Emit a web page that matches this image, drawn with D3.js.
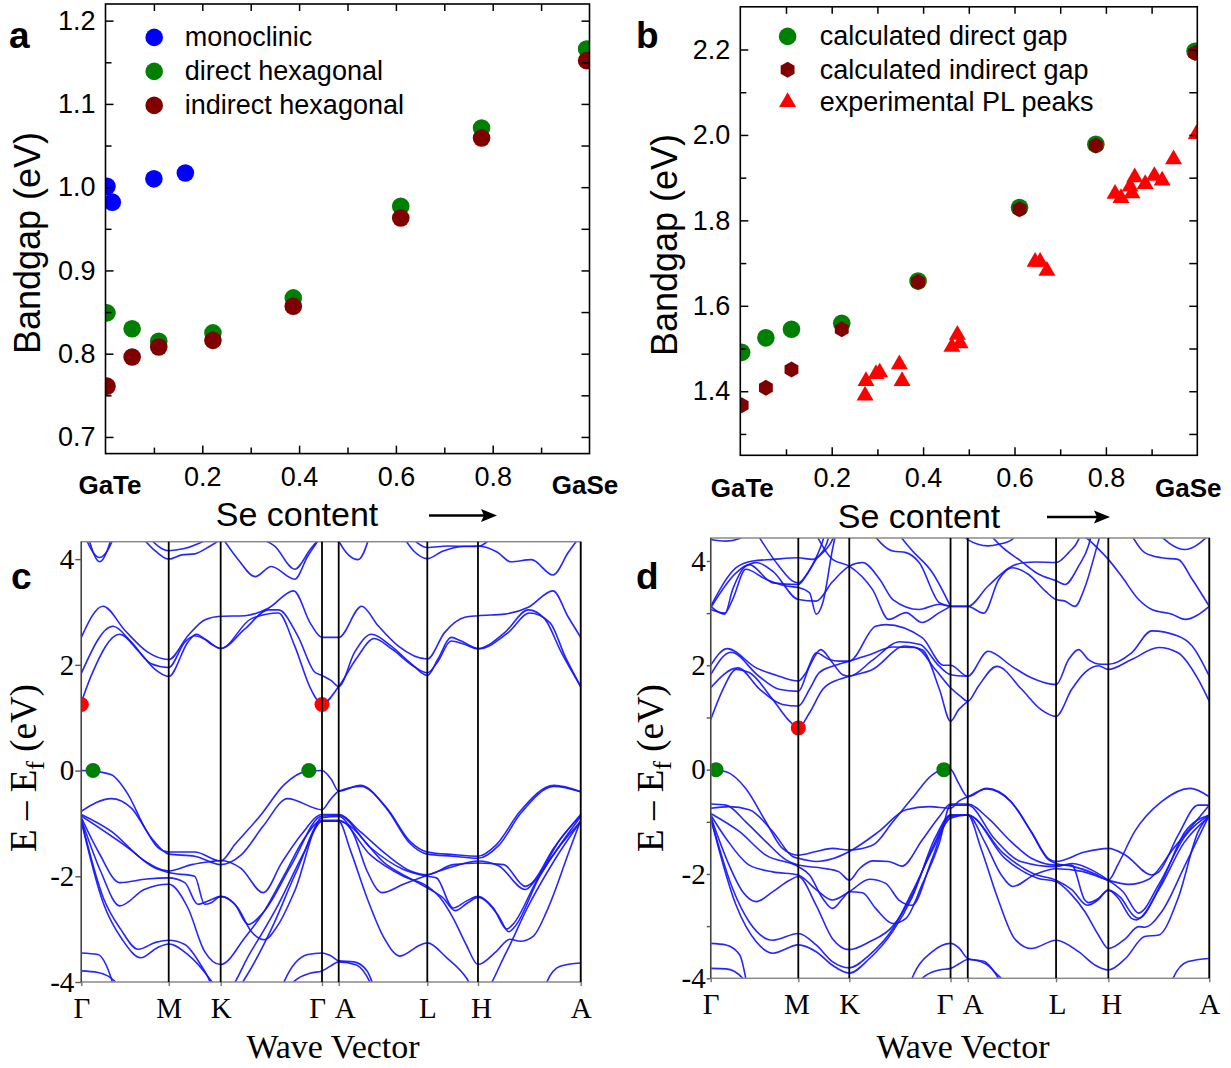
<!DOCTYPE html>
<html>
<head>
<meta charset="utf-8">
<script src="https://cdn.jsdelivr.net/npm/d3@7"></script>
<style>
  body { margin: 0; background: #fff; }
  svg { display: block; }
</style>
</head>
<body>
<svg id="fig" width="1231" height="1068"></svg>
<script>
// ---------------- (a) band gap vs Se content ----------------
const monoX = [0.003, 0.014, 0.100, 0.165];
const monoGap = [1.001, 0.982, 1.010, 1.017];
const hexX = [0.003, 0.055, 0.110, 0.222, 0.388, 0.610, 0.777, 0.994];
const directHexGap = [0.849, 0.830, 0.815, 0.825, 0.867, 0.977, 1.071, 1.166];
const indirectHexGap = [0.761, 0.796, 0.808, 0.816, 0.857, 0.963, 1.059, 1.152];
const legendA = ["monoclinic", "direct hexagonal", "indirect hexagonal"];

// ---------------- (b) calculated vs PL ----------------
const calcX = [0.003, 0.056, 0.112, 0.222, 0.389, 0.611, 0.778, 0.995];
const calcDirectGap = [1.491, 1.525, 1.545, 1.559, 1.658, 1.830, 1.978, 2.196];
const calcIndirectGap = [1.367, 1.408, 1.451, 1.545, 1.656, 1.826, 1.975, 2.192];
const plX = [0.273, 0.275, 0.297, 0.305, 0.348, 0.354, 0.463, 0.475, 0.481, 0.645, 0.656, 0.671,
             0.820, 0.833, 0.853, 0.863, 0.857, 0.886, 0.906, 0.923, 0.948, 0.998];
const plGap = [1.390, 1.424, 1.440, 1.444, 1.463, 1.424, 1.504, 1.532, 1.512, 1.703, 1.703, 1.682,
               1.862, 1.852, 1.879, 1.901, 1.863, 1.885, 1.904, 1.893, 1.943, 2.002];
const legendB = ["calculated direct gap", "calculated indirect gap", "experimental PL peaks"];

// shared composition axis
const xMajor = [0.2, 0.4, 0.6, 0.8];
const xMinor = [0.1, 0.3, 0.5, 0.7, 0.9];
const aYMajor = [0.7, 0.8, 0.9, 1.0, 1.1, 1.2];
const aYMinor = [0.75, 0.85, 0.95, 1.05, 1.15];
const bYMajor = [1.4, 1.6, 1.8, 2.0, 2.2];
const bYMinor = [1.3, 1.5, 1.7, 1.9, 2.1];

// ---------------- (c), (d) band structures ----------------
// cumulative k-path distance (1/Angstrom) of the high-symmetry points
const kLabels = ["Γ", "M", "K", "Γ", "A", "L", "H", "A"];
const kPathC = [0, 0.885, 1.411, 2.437, 2.606, 3.503, 4.016, 5.056];
const kPathD = [0, 0.885, 1.400, 2.423, 2.597, 3.489, 4.017, 5.037];
// band knots: [segment position (index of start point + fraction), E - Ef in eV]
const bandsCCond = [
  [[0,2.52],[0.248,3.11],[0.50,2.65],[0.76,2.24],[1,2.10],[1.37,2.55],[1.69,2.85],[2,2.92],[2.24,2.93],[2.47,3.07],[2.72,3.40],[2.89,2.77],[3,2.52],[4,2.52],[4.26,3.11],[4.44,2.75],[4.67,2.36],[5,2.11],[5.34,2.61],[5.74,2.90],[6,2.93],[6.26,2.96],[6.49,3.09],[6.73,3.40],[6.88,2.90],[7,2.52]],
  [[0,1.84],[0.363,2.73],[0.573,2.43],[0.80,2.02],[1,1.95],[1.31,2.43],[1.50,2.55],[1.69,2.49],[2,2.31],[2.24,2.68],[2.47,3.04],[2.57,3.04],[2.76,2.55],[2.93,1.86],[3,1.80],[3.56,1.70],[4,1.59],[4.18,2.24],[4.37,2.58],[4.59,2.36],[4.82,2.02],[5,1.80],[5.21,2.11],[5.47,2.52],[5.67,2.45],[6,2.31],[6.26,2.61],[6.49,3.04],[6.65,2.87],[6.81,2.24],[7,1.59]],
  [[0,1.29],[0.115,1.80],[0.439,2.58],[0.649,2.27],[0.84,1.92],[1,1.78],[1.37,2.43],[1.53,2.58],[1.82,2.39],[2,2.31],[2.30,2.87],[2.57,2.98],[2.73,2.36],[2.89,1.54],[3,1.26],[4,1.59],[4.2,2.12],[4.4,2.50],[4.6,2.30],[4.85,1.97],[5,1.85],[5.2,2.05],[5.47,2.45],[5.7,2.40],[6,2.30],[6.3,2.62],[6.5,2.98],[6.7,2.80],[6.85,2.15],[7,1.59]]
];
const bandsCUpper = [
  [[0,4.6],[0.21,4.03],[0.42,4.6]],
  [[0.05,4.6],[0.21,3.95],[0.38,4.6]],
  [[0.65,4.5],[0.85,4.15],[1,4.0],[1.25,4.08],[1.5,4.10],[1.8,4.25],[2.1,4.5]],
  [[0.75,4.45],[1,4.16],[1.3,4.2],[1.9,4.45]],
  [[2.0,4.45],[2.17,4.0],[2.34,3.67],[2.5,3.86],[2.73,3.62],[2.86,4.06],[3.0,4.45]],
  [[2.25,4.45],[2.53,4.25],[2.73,3.81],[2.89,4.2],[3.0,4.45]],
  [[3.95,4.5],[4.0,4.35],[4.22,3.99],[4.36,4.5]],
  [[4.7,4.5],[4.85,4.15],[5,4.01],[5.3,4.15],[5.7,4.24],[6,4.25],[6.19,4.13],[6.32,3.95],[6.52,3.99],[6.73,3.70],[6.88,4.13],[7,4.45]],
  [[4.8,4.45],[5,4.22],[5.4,4.25],[6,4.24],[6.15,4.45]]
];
const bandsCVal = [
  [[0,0],[0.134,-0.01],[0.344,-0.08],[0.534,-0.45],[0.725,-1.08],[0.878,-1.46],[1,-1.54],[1.5,-1.54],[2,-1.71],[2.14,-1.40],[2.40,-0.83],[2.63,-0.26],[2.86,-0.01],[3,0],[3.56,-0.17],[4,-0.39],[4.243,-0.28],[4.543,-0.71],[4.805,-1.34],[5,-1.54],[5.51,-1.59],[6,-1.62],[6.18,-1.40],[6.41,-0.77],[6.74,-0.28],[7,-0.40]],
  [[0,-0.77],[0.344,-0.53],[0.573,-0.71],[0.80,-1.27],[1,-1.58],[1.5,-1.62],[2,-1.78],[2.2,-1.6],[2.42,-1.05],[2.66,-0.53],[3,-0.74],[3.5,-0.55],[4,-0.39],[4.25,-0.30],[4.55,-0.74],[4.8,-1.37],[5,-1.58],[5.5,-1.62],[6,-1.66],[6.2,-1.42],[6.42,-0.80],[6.74,-0.30],[7,-0.40]],
  [[0,-0.83],[0.344,-1.15],[0.725,-1.71],[1,-1.90],[1.44,-1.78],[1.82,-1.72],[2,-1.70],[2.2,-1.85],[2.42,-2.31],[2.6,-1.75],[2.8,-1.2],[3,-0.83],[4,-0.83],[4.24,-1.15],[4.54,-1.59],[4.81,-1.90],[5,-1.97],[5.51,-1.78],[6,-1.75],[6.25,-1.78],[6.46,-2.19],[6.51,-2.15],[6.74,-1.46],[7,-0.83]],
  [[0,-0.86],[0.534,-1.46],[0.84,-1.84],[1,-1.93],[1.5,-2.0],[1.69,-2.53],[1.82,-2.50],[2,-2.38],[2.14,-2.53],[2.27,-2.91],[2.43,-2.66],[2.70,-1.78],[3,-0.86],[4,-0.85],[4.36,-1.46],[4.73,-1.87],[5,-2.00],[5.18,-2.03],[5.51,-2.60],[5.77,-2.47],[6,-2.38],[6.15,-2.60],[6.28,-3.0],[6.34,-2.91],[6.57,-2.09],[7,-0.87]],
  [[0,-0.89],[0.20,-1.55],[0.44,-2.12],[0.75,-2.05],[1,-2.03],[1.31,-2.12],[1.56,-2.53],[1.8,-2.45],[2,-2.38],[2.17,-2.60],[2.30,-3.04],[2.43,-3.2],[2.57,-2.91],[2.73,-2.28],[3,-0.89],[4,-0.87],[4.17,-1.21],[4.32,-1.9],[4.49,-2.31],[4.73,-2.15],[5,-1.98],[5.5,-1.82],[6,-1.71],[6.2,-1.8],[6.46,-2.25],[6.55,-2.1],[6.8,-1.3],[7,-0.85]],
  [[0,-0.92],[0.22,-1.90],[0.44,-2.56],[0.72,-2.25],[1,-2.15],[1.37,-2.6],[1.69,-3.42],[2,-3.67],[2.24,-3.16],[2.43,-2.66],[2.63,-1.97],[2.83,-1.27],[3,-0.94],[4,-0.94],[4.36,-1.6],[4.73,-2.0],[5,-2.19],[5.25,-2.4],[5.51,-2.79],[5.77,-3.3],[6,-3.67],[6.18,-3.42],[6.31,-3.19],[6.41,-3.23],[6.54,-3.13],[6.67,-2.66],[6.9,-1.46],[7,-0.94]],
  [[0,-0.94],[0.25,-2.4],[0.45,-3.0],[0.65,-3.38],[0.85,-3.25],[1,-3.21],[1.31,-3.29],[1.69,-3.79],[2,-4.3],[2.30,-3.42],[2.57,-2.53],[2.83,-1.52],[3,-0.96],[4,-0.96],[4.13,-1.5],[4.32,-2.41],[4.51,-3.16],[4.69,-3.51],[4.92,-3.3],[5,-3.26],[5.38,-3.54],[5.77,-3.92],[6,-4.3],[6.28,-3.42],[6.48,-2.60],[6.74,-1.71],[7,-0.96]],
  [[0,-0.96],[0.25,-2.5],[0.47,-3.2],[0.68,-3.54],[0.87,-3.35],[1,-3.28],[1.37,-3.48],[1.82,-3.98],[2.05,-4.4],[2.25,-3.9],[2.5,-3.0],[2.75,-1.9],[3,-0.96],[4,-0.96],[4.54,-1.78],[5,-2.22],[5.3,-2.4],[5.55,-2.65],[5.8,-2.5],[6,-2.40],[6.2,-2.75],[6.3,-3.05],[6.36,-2.95],[6.6,-2.0],[7,-0.96]],
  [[0,-3.45],[0.19,-3.48],[0.34,-3.92],[0.42,-4.4]],
  [[0,-3.79],[0.19,-3.82],[0.38,-3.98],[0.46,-4.4]],
  [[2.55,-4.4],[2.63,-3.98],[2.86,-3.48],[3,-3.45],[3.5,-3.5],[4,-3.60],[4.17,-3.62],[4.32,-3.79],[4.45,-4.4]],
  [[2.62,-4.4],[2.73,-3.98],[2.89,-3.83],[3,-3.79],[3.5,-3.7],[4,-3.62],[4.2,-3.68],[4.38,-4.1],[4.45,-4.4]],
  [[6.6,-4.4],[6.67,-4.0],[6.8,-3.70],[7,-3.64]]
];
const bandsDCond = [
  [[0,2.0],[0.19,2.32],[0.52,1.95],[0.78,1.79],[1,1.70],[1.15,1.86],[1.35,2.24],[1.61,2.11],[1.8,2.08],[2,2.08],[2.26,2.75],[2.36,2.78],[2.72,2.53],[2.93,2.0],[3,2.0],[4,1.79],[4.23,2.27],[4.5,1.98],[4.72,1.76],[5,1.63],[5.24,2.11],[5.43,2.30],[5.62,2.11],[5.87,2.02],[6,2.02],[6.23,2.24],[6.43,2.66],[6.69,2.56],[6.83,2.37],[7,1.79]],
  [[0,1.82],[0.23,2.25],[0.55,1.79],[0.78,1.54],[1,1.50],[1.22,1.98],[1.44,2.30],[1.67,2.05],[1.87,1.82],[2,1.79],[2.23,2.10],[2.5,2.45],[2.7,2.40],[2.88,2.0],[3,1.82],[4,1.79]],
  [[0,1.57],[0.31,1.95],[0.56,1.54],[0.82,1.25],[1,1.22],[1.22,1.54],[1.41,1.86],[1.67,1.98],[2,2.08],[2.2,2.2],[2.43,2.35],[2.65,2.34],[2.85,1.92],[3,1.57],[3.6,1.40],[4,1.31],[4.12,1.6],[4.33,1.98],[4.61,1.54],[4.83,1.15],[5,1.02],[5.30,1.54],[5.55,1.86],[5.81,1.99],[6,1.92],[6.23,2.11],[6.5,2.34],[6.69,2.24],[6.89,1.73],[7,1.31]],
  [[0,0.96],[0.14,1.54],[0.29,1.92],[0.44,1.86],[0.71,1.34],[0.90,0.93],[1,0.80],[1.22,1.09],[1.48,1.54],[1.80,1.73],[2,1.79],[2.23,1.92],[2.55,2.37],[2.72,2.30],[2.89,1.54],[3,0.93],[3.47,1.15],[4,1.31]]
];
const bandsDUpper = [
  [[0,3.13],[0.16,2.98],[0.25,3.45],[0.40,3.90],[0.52,3.97],[0.71,3.80],[1,3.26],[1.35,3.23],[1.67,3.6],[2,3.90],[2.13,3.97],[2.30,3.65],[2.43,3.26],[2.69,3.07],[2.89,3.17],[3,3.13],[4,3.13],[4.18,3.0],[4.35,3.64],[4.5,3.87],[4.69,3.74],[4.88,3.42],[5,3.26],[5.17,3.23],[5.36,3.13],[5.55,3.49],[5.75,4.16],[5.87,4.6]],
  [[0,3.13],[0.29,3.87],[0.48,4.0],[0.71,4.03],[1,4.06],[1.28,4.03],[1.48,4.16],[1.64,4.35],[1.75,4.6]],
  [[0,3.10],[0.29,3.77],[0.44,3.93],[0.71,3.58],[1,3.55],[1.15,3.71],[1.35,4.03],[1.54,4.29],[1.64,4.6]],
  [[0,3.07],[0.16,3.0],[0.25,3.26],[0.40,3.84],[0.63,3.65],[0.86,3.52],[1,3.49],[1.22,3.39],[1.35,2.98],[1.48,3.20],[1.67,4.22],[1.75,4.6]],
  [[0.5,4.6],[0.78,3.90],[0.95,3.6],[1,3.58],[1.2,3.8],[1.45,4.3],[1.55,4.6]],
  [[1.3,4.6],[1.67,4.03],[2,3.90],[2.23,3.45],[2.39,2.88],[2.56,3.01],[2.72,2.82],[2.89,3.01],[3,3.13]],
  [[2.2,4.6],[2.43,4.19],[2.56,4.16],[2.69,3.97],[2.89,3.20],[3,3.13]],
  [[2.45,4.6],[2.62,4.2],[2.82,3.78],[3,3.13]],
  [[3,3.13],[4,3.13],[4.23,3.52],[4.5,3.90],[4.65,3.97],[4.76,3.98],[5,3.97],[5.24,4.16],[5.43,4.41],[5.5,4.6]],
  [[4.2,4.6],[4.4,4.25],[4.6,4.0],[4.8,3.75],[5,3.62],[5.17,3.55],[5.43,3.90],[5.62,4.29],[5.7,4.6]],
  [[3.3,4.6],[4,4.41],[4.23,4.29],[4.35,4.32],[4.5,4.41],[4.6,4.6]],
  [[5.4,4.6],[5.75,4.29],[6,4.03],[6.13,3.71],[6.30,3.26],[6.43,3.07],[6.63,2.98],[6.76,2.88],[7,3.13]],
  [[6.2,4.6],[6.36,4.16],[6.53,4.06],[6.69,4.03],[6.83,3.65],[7,3.13]],
  [[6.45,4.6],[6.76,4.22],[7,4.5]],
  [[0,4.41],[0.175,4.38],[0.33,4.43],[0.45,4.6]]
];
const bandsDVal = [
  [[0,0],[0.175,-0.04],[0.40,-0.36],[0.63,-1.0],[0.82,-1.51],[1,-1.64],[1.35,-1.57],[1.67,-1.51],[2,-1.54],[2.23,-1.45],[2.43,-1.0],[2.62,-0.55],[2.82,-0.10],[2.93,0],[3,0],[3.45,-0.25],[4,-0.52],[4.21,-0.36],[4.49,-0.61],[4.72,-1.19],[4.91,-1.70],[5,-1.76],[5.55,-1.58],[6,-1.51],[6.17,-1.64],[6.43,-2.02],[6.5,-1.96],[6.69,-1.26],[6.89,-0.68],[7,-0.68]],
  [[0,-0.74],[0.21,-0.71],[0.44,-0.77],[0.71,-1.19],[0.94,-1.67],[1,-1.70],[1.35,-1.76],[1.7,-1.7],[2,-1.57],[2.29,-1.19],[2.56,-0.77],[2.79,-0.71],[3,-0.74],[3.5,-0.6],[4,-0.52],[4.21,-0.37],[4.49,-0.62],[4.72,-1.2],[4.91,-1.72],[5,-1.80],[5.3,-1.85],[5.75,-2.0],[6,-2.12],[6.1,-1.8],[6.26,-1.19],[6.53,-0.61],[6.81,-0.36],[7,-0.52]],
  [[0,-0.66],[0.175,-0.68],[0.40,-1.0],[0.63,-1.38],[0.86,-1.73],[1,-1.83],[1.48,-1.89],[1.80,-1.96],[2,-2.12],[2.10,-1.90],[2.23,-1.75],[2.39,-1.76],[2.52,-1.85],[2.72,-1.35],[2.89,-0.9],[3,-0.66],[4,-0.66],[4.23,-0.93],[4.49,-1.38],[4.72,-1.70],[5,-1.83],[5.30,-1.83],[5.55,-2.5],[5.62,-2.55],[5.81,-2.47],[6,-2.31],[6.10,-2.47],[6.23,-2.85],[6.28,-2.88],[6.33,-2.82],[6.53,-2.15],[6.76,-1.19],[7,-0.87]],
  [[0,-0.84],[0.33,-1.19],[0.63,-1.64],[1,-1.86],[1.22,-2.02],[1.48,-2.47],[1.67,-2.66],[1.87,-2.47],[2,-2.34],[2.13,-2.36],[2.26,-2.66],[2.43,-2.95],[2.56,-2.85],[2.72,-2.2],[2.89,-1.4],[3,-0.68],[4,-0.68],[4.30,-1.32],[4.60,-1.76],[5,-1.86],[5.30,-1.8],[5.75,-1.96],[6,-2.12],[6.15,-2.35],[6.3,-2.75],[6.5,-2.2],[6.75,-1.3],[7,-0.87]],
  [[0,-0.87],[0.175,-1.32],[0.44,-1.83],[0.71,-1.96],[1,-2.02],[1.35,-2.3],[1.67,-2.5],[2,-2.34],[2.2,-2.1],[2.36,-2.18],[2.49,-2.5],[2.62,-2.6],[2.82,-1.7],[3,-0.87],[4,-0.87],[4.19,-1.38],[4.38,-2.02],[4.51,-2.24],[4.75,-2.02],[5,-1.90],[5.5,-1.95],[6,-2.12],[6.2,-2.2],[6.4,-2.1],[6.65,-1.5],[7,-0.68]],
  [[0,-0.90],[0.21,-1.83],[0.365,-2.34],[0.52,-2.53],[0.71,-2.34],[0.90,-2.12],[1,-2.05],[1.35,-2.6],[1.67,-3.24],[2,-3.45],[2.2,-3.3],[2.43,-3.0],[2.62,-2.4],[2.82,-1.5],[3,-0.90],[4,-0.87],[4.42,-1.70],[4.79,-2.08],[5,-2.15],[5.30,-2.40],[5.55,-2.72],[5.81,-3.17],[6,-3.43],[6.17,-3.24],[6.30,-3.01],[6.36,-3.02],[6.53,-2.72],[6.76,-1.83],[7,-0.87]],
  [[0,-0.93],[0.25,-2.28],[0.44,-2.92],[0.71,-3.27],[1,-3.14],[1.35,-3.36],[1.67,-3.68],[2,-3.80],[2.2,-3.55],[2.43,-3.05],[2.62,-2.35],[2.82,-1.55],[3,-0.93],[4,-0.87],[4.15,-1.51],[4.34,-2.47],[4.53,-3.24],[4.72,-3.43],[5,-3.27],[5.43,-3.49],[5.75,-3.75],[6,-3.84],[6.17,-3.62],[6.36,-3.20],[6.50,-3.17],[6.69,-2.47],[6.89,-1.19],[7,-0.87]],
  [[0,-0.93],[0.29,-2.60],[0.52,-3.30],[0.71,-3.52],[1,-3.36],[1.35,-3.49],[1.67,-3.75],[2,-3.90],[2.2,-3.62],[2.43,-3.1],[2.62,-2.45],[2.85,-1.3],[3,-0.87],[4,-0.87],[4.4,-1.6],[4.75,-2.0],[5,-2.12],[5.3,-2.3],[5.6,-2.6],[5.8,-2.5],[6,-2.31],[6.12,-2.45],[6.25,-2.8],[6.3,-2.85],[6.5,-2.3],[6.75,-1.4],[7,-0.90]],
  [[0,-3.33],[0.175,-3.36],[0.33,-3.55],[0.40,-4.0],[0.44,-4.4]],
  [[0,-3.81],[0.175,-3.82],[0.365,-4.0],[0.42,-4.4]],
  [[2.55,-4.4],[2.62,-4.0],[2.82,-3.49],[3,-3.33],[3.5,-3.42],[4,-3.62],[4.19,-3.68],[4.30,-3.87],[4.42,-4.1],[4.5,-4.4]],
  [[2.66,-4.4],[2.72,-4.0],[2.89,-3.84],[3,-3.81],[3.5,-3.72],[4,-3.64],[4.2,-3.72],[4.38,-4.1],[4.46,-4.4]],
  [[6.58,-4.4],[6.64,-4.0],[6.79,-3.68],[7,-3.62]]
];
// band-edge markers [segment position, E]
const cVBM = [[0.134, 0], [2.87, 0]];
const cCBM = [[0, 1.25], [3, 1.25]];
const dVBM = [[0.06, 0], [2.934, 0]];
const dCBM = [[1, 0.80]];

// ---------------- layout ----------------
const svg = d3.select("#fig");
const SANS = "'Liberation Sans', Arial, Helvetica, sans-serif";
const SERIF = "'Liberation Serif', 'Times New Roman', serif";
const boxA = {l: 105.5, r: 589.5, t: 4, b: 453.6};
const boxB = {l: 740.3, r: 1197.3, t: 6.8, b: 455.3};
const boxC = {l: 81.3, r: 580.7, t: 541.7, b: 982};
const boxD = {l: 710.7, r: 1209.3, t: 538, b: 978.3};

const defs = svg.append("defs");
function clipFor(id, box) {
  defs.append("clipPath").attr("id", id).append("rect")
    .attr("x", box.l).attr("y", box.t).attr("width", box.r - box.l).attr("height", box.b - box.t);
  return `url(#${id})`;
}

function hexPath(r) {
  let p = "";
  for (let i = 0; i < 6; i++) {
    const a = Math.PI / 3 * i - Math.PI / 2;
    p += (i ? "L" : "M") + (r * Math.cos(a)).toFixed(2) + "," + (r * Math.sin(a)).toFixed(2);
  }
  return p + "Z";
}
const triPath = d3.symbol(d3.symbolTriangle, 125)();

function styleAxis(g, font, size) {
  g.select(".domain").remove();
  g.attr("font-family", font).attr("font-size", size);
  g.selectAll("line").attr("stroke", "#000").attr("stroke-width", 1.5);
  g.selectAll("text").attr("fill", "#000");
}

function boxAxes(g, x, y, box, yMaj, yMin) {
  const f1 = d3.format(".1f");
  const all = (a, b) => a.concat(b);
  g.append("g").attr("transform", `translate(${box.l},0)`)
    .call(d3.axisLeft(y).tickValues(yMaj).tickSize(-8).tickPadding(10).tickFormat(f1))
    .call(s => styleAxis(s, SANS, 27));
  g.append("g").attr("transform", `translate(${box.l},0)`)
    .call(d3.axisLeft(y).tickValues(yMin).tickSize(-6).tickFormat(""))
    .call(s => styleAxis(s, SANS, 27));
  g.append("g").attr("transform", `translate(${box.r},0)`)
    .call(d3.axisRight(y).tickValues(all(yMaj, yMin)).tickSize(-8).tickFormat(""))
    .call(s => styleAxis(s, SANS, 27));
  g.append("g").attr("transform", `translate(0,${box.b})`)
    .call(d3.axisBottom(x).tickValues(xMajor).tickSize(-8).tickPadding(13).tickFormat(f1))
    .call(s => styleAxis(s, SANS, 27));
  g.append("g").attr("transform", `translate(0,${box.b})`)
    .call(d3.axisBottom(x).tickValues(xMinor).tickSize(-6).tickFormat(""))
    .call(s => styleAxis(s, SANS, 27));
  g.append("g").attr("transform", `translate(0,${box.t})`)
    .call(d3.axisTop(x).tickValues(all(xMajor, xMinor)).tickSize(-7).tickFormat(""))
    .call(s => styleAxis(s, SANS, 27));
  g.append("rect").attr("x", box.l).attr("y", box.t)
    .attr("width", box.r - box.l).attr("height", box.b - box.t)
    .attr("fill", "none").attr("stroke", "#000").attr("stroke-width", 1.6);
}

function arrow(g, x0, x1, yy) {
  g.append("line").attr("x1", x0).attr("x2", x1 - 12).attr("y1", yy).attr("y2", yy)
    .attr("stroke", "#000").attr("stroke-width", 2.6);
  g.append("path").attr("d", `M${x1},${yy}L${x1 - 16},${yy - 6.5}L${x1 - 13},${yy}L${x1 - 16},${yy + 6.5}Z`)
    .attr("fill", "#000");
}

function compositionLabels(g, box, ybase, gaTeX, gaSeX, seX, seBase, arrX0, arrX1, arrY, ylabX, ylabY) {
  g.append("text").attr("x", gaTeX).attr("y", ybase).attr("text-anchor", "middle")
    .attr("font-family", SANS).attr("font-weight", "bold").attr("font-size", 26).text("GaTe");
  g.append("text").attr("x", gaSeX).attr("y", ybase).attr("text-anchor", "middle")
    .attr("font-family", SANS).attr("font-weight", "bold").attr("font-size", 26).text("GaSe");
  g.append("text").attr("x", seX).attr("y", seBase).attr("text-anchor", "middle")
    .attr("font-family", SANS).attr("font-size", 34).text("Se content");
  arrow(g, arrX0, arrX1, arrY);
  g.append("text").attr("transform", `translate(${ylabX},${ylabY}) rotate(-90)`)
    .attr("text-anchor", "middle").attr("font-family", SANS).attr("font-size", 36).text("Bandgap (eV)");
}

function panelLetter(t, x, y) {
  svg.append("text").attr("x", x).attr("y", y).attr("font-family", SANS)
    .attr("font-weight", "bold").attr("font-size", 37).text(t);
}

// ---------------- panel (a) ----------------
{
  const g = svg.append("g");
  const x = d3.scaleLinear().domain([0, 1]).range([boxA.l, boxA.r]);
  const y = d3.scaleLinear().domain([0.68, 1.22]).range([boxA.b, boxA.t]);
  const pts = g.append("g").attr("clip-path", clipFor("clipA", boxA));
  pts.selectAll(".mono").data(monoX).join("circle")
    .attr("cx", d => x(d)).attr("cy", (d, i) => y(monoGap[i])).attr("r", 8.8).attr("fill", "#0000ff");
  pts.selectAll(".dir").data(hexX).join("circle")
    .attr("cx", d => x(d)).attr("cy", (d, i) => y(directHexGap[i])).attr("r", 8.8).attr("fill", "#008000");
  pts.selectAll(".ind").data(hexX).join("circle")
    .attr("cx", d => x(d)).attr("cy", (d, i) => y(indirectHexGap[i])).attr("r", 8.8).attr("fill", "#800000");
  boxAxes(g, x, y, boxA, aYMajor, aYMinor);
  const legColors = ["#0000ff", "#008000", "#800000"];
  const leg = g.append("g").attr("font-family", SANS).attr("font-size", 27);
  legendA.forEach((t, i) => {
    const cy = 37.4 + i * 34;
    leg.append("circle").attr("cx", 154.2).attr("cy", cy).attr("r", 8.8).attr("fill", legColors[i]);
    leg.append("text").attr("x", 184.8).attr("y", cy + 9).text(t);
  });
  compositionLabels(g, boxA, 494, x(0) + 4.5, x(1) - 4.5, 297, 526, 429, 497, 515.5, 40, 243);
  panelLetter("a", 9, 47.6);
}

// ---------------- panel (b) ----------------
{
  const g = svg.append("g");
  const x = d3.scaleLinear().domain([0, 1]).range([boxB.l, boxB.r]);
  const y = d3.scaleLinear().domain([1.25, 2.3]).range([boxB.b, boxB.t]);
  const pts = g.append("g").attr("clip-path", clipFor("clipB", boxB));
  pts.selectAll(".dir").data(calcX).join("circle")
    .attr("cx", d => x(d)).attr("cy", (d, i) => y(calcDirectGap[i])).attr("r", 8.8).attr("fill", "#008000");
  pts.selectAll(".ind").data(calcX).join("path")
    .attr("d", hexPath(8))
    .attr("transform", (d, i) => `translate(${x(d)},${y(calcIndirectGap[i])})`).attr("fill", "#800000");
  pts.selectAll(".pl").data(plX).join("path")
    .attr("d", triPath)
    .attr("transform", (d, i) => `translate(${x(d)},${y(plGap[i])})`).attr("fill", "#ff0000");
  boxAxes(g, x, y, boxB, bYMajor, bYMinor);
  const leg = g.append("g").attr("font-family", SANS).attr("font-size", 27);
  const ly = [36.4, 69.7, 102];
  leg.append("circle").attr("cx", 787.6).attr("cy", ly[0]).attr("r", 8.8).attr("fill", "#008000");
  leg.append("path").attr("d", hexPath(8)).attr("transform", `translate(787.6,${ly[1]})`).attr("fill", "#800000");
  leg.append("path").attr("d", triPath).attr("transform", `translate(787.6,${ly[2]})`).attr("fill", "#ff0000");
  legendB.forEach((t, i) => leg.append("text").attr("x", 819.8).attr("y", ly[i] + 9).text(t));
  compositionLabels(g, boxB, 497, x(0) + 2, x(1) - 9, 919, 528, 1047, 1110, 517, 677, 245);
  panelLetter("b", 636, 47.6);
}

// ---------------- panels (c), (d) ----------------
function kAt(nodes, t) {
  const i = Math.min(Math.floor(t), nodes.length - 2);
  return nodes[i] + (t - i) * (nodes[i + 1] - nodes[i]);
}

function bandPanel(box, kPath, yDom, yTicks, tickLen, bandSets, vbm, cbm, clipId, labelDx, ylabX, wvX, letter, letterX) {
  const g = svg.append("g");
  const x = d3.scaleLinear().domain([0, kPath[kPath.length - 1]]).range([box.l, box.r]);
  const y = d3.scaleLinear().domain(yDom).range([box.b, box.t]);
  const line = d3.line().x(d => x(kAt(kPath, d[0]))).y(d => y(d[1])).curve(d3.curveMonotoneX);
  const plot = g.append("g").attr("clip-path", clipFor(clipId, box));
  bandSets.forEach(set => {
    plot.append("g").selectAll("path").data(set).join("path")
      .attr("d", line).attr("fill", "none")
      .attr("stroke", "#1414ff").attr("stroke-width", 1.6).attr("stroke-opacity", 0.92);
  });
  // frame and high-symmetry lines
  g.append("rect").attr("x", box.l).attr("y", box.t).attr("width", box.r - box.l).attr("height", box.b - box.t)
    .attr("fill", "none").attr("stroke", "#8a8a8a").attr("stroke-width", 1.5);
  g.append("line").attr("x1", box.l).attr("x2", box.l).attr("y1", box.t).attr("y2", box.b)
    .attr("stroke", "#444").attr("stroke-width", 1.4);
  g.selectAll(".sym").data(kPath.slice(1)).join("line")
    .attr("x1", d => x(d)).attr("x2", d => x(d)).attr("y1", box.t).attr("y2", box.b)
    .attr("stroke", "#000").attr("stroke-width", 1.8);
  // band-edge markers
  plot.selectAll(".vbm").data(vbm).join("circle")
    .attr("cx", d => x(kAt(kPath, d[0]))).attr("cy", d => y(d[1])).attr("r", 7.5).attr("fill", "#008000");
  plot.selectAll(".cbm").data(cbm).join("circle")
    .attr("cx", d => x(kAt(kPath, d[0]))).attr("cy", d => y(d[1])).attr("r", 7.5).attr("fill", "#ff0000");
  // axes
  g.append("g").attr("transform", `translate(${box.l},0)`)
    .call(d3.axisLeft(y).tickValues(yTicks).tickSize(tickLen).tickPadding(1)
      .tickFormat(d => (d % 2 === 0 ? String(d) : "")))
    .call(s => {
      s.select(".domain").remove();
      s.attr("font-family", SERIF).attr("font-size", 29);
      s.selectAll("line").attr("stroke", "#555").attr("stroke-width", 1.4);
      s.selectAll("text").attr("fill", "#000");
    });
  g.append("g").attr("transform", `translate(0,${box.b})`)
    .call(d3.axisBottom(x).tickValues(kPath).tickSize(4).tickPadding(11).tickFormat((d, i) => kLabels[i]))
    .call(s => {
      s.select(".domain").remove();
      s.attr("font-family", SERIF).attr("font-size", 29);
      s.selectAll("line").attr("stroke", "#777").attr("stroke-width", 1.4);
      s.selectAll("text").attr("fill", "#000").attr("dx", (d, i) => labelDx[i]);
    });
  g.append("text").attr("x", wvX).attr("y", 1058).attr("text-anchor", "middle")
    .attr("font-family", SERIF).attr("font-size", 34).text("Wave Vector");
  const yl = g.append("text").attr("transform", `translate(${ylabX},768) rotate(-90)`)
    .attr("text-anchor", "middle").attr("font-family", SERIF).attr("font-size", 37);
  yl.append("tspan").text("E – E");
  yl.append("tspan").attr("font-size", 26).attr("dy", 8).text("f");
  yl.append("tspan").attr("dy", -8).text(" (eV)");
  panelLetter(letter, letterX, 588.6);
}

bandPanel(boxC, kPathC, [-4, 4.33], [-4, -2, 0, 2, 4], 6,
  [bandsCUpper, bandsCCond, bandsCVal], cVBM, cCBM, "clipC",
  [0, 0, 0, -5, 6, 0, 3, 0], 36, 333, "c", 11);
bandPanel(boxD, kPathD, [-4, 4.44], [-4, -3, -2, -1, 0, 1, 2, 3, 4], 4,
  [bandsDUpper, bandsDCond, bandsDVal], dVBM, dCBM, "clipD",
  [0, -2, 0, -6, 5, 1, 3, 0], 663, 963, "d", 636);
</script>
</body>
</html>
